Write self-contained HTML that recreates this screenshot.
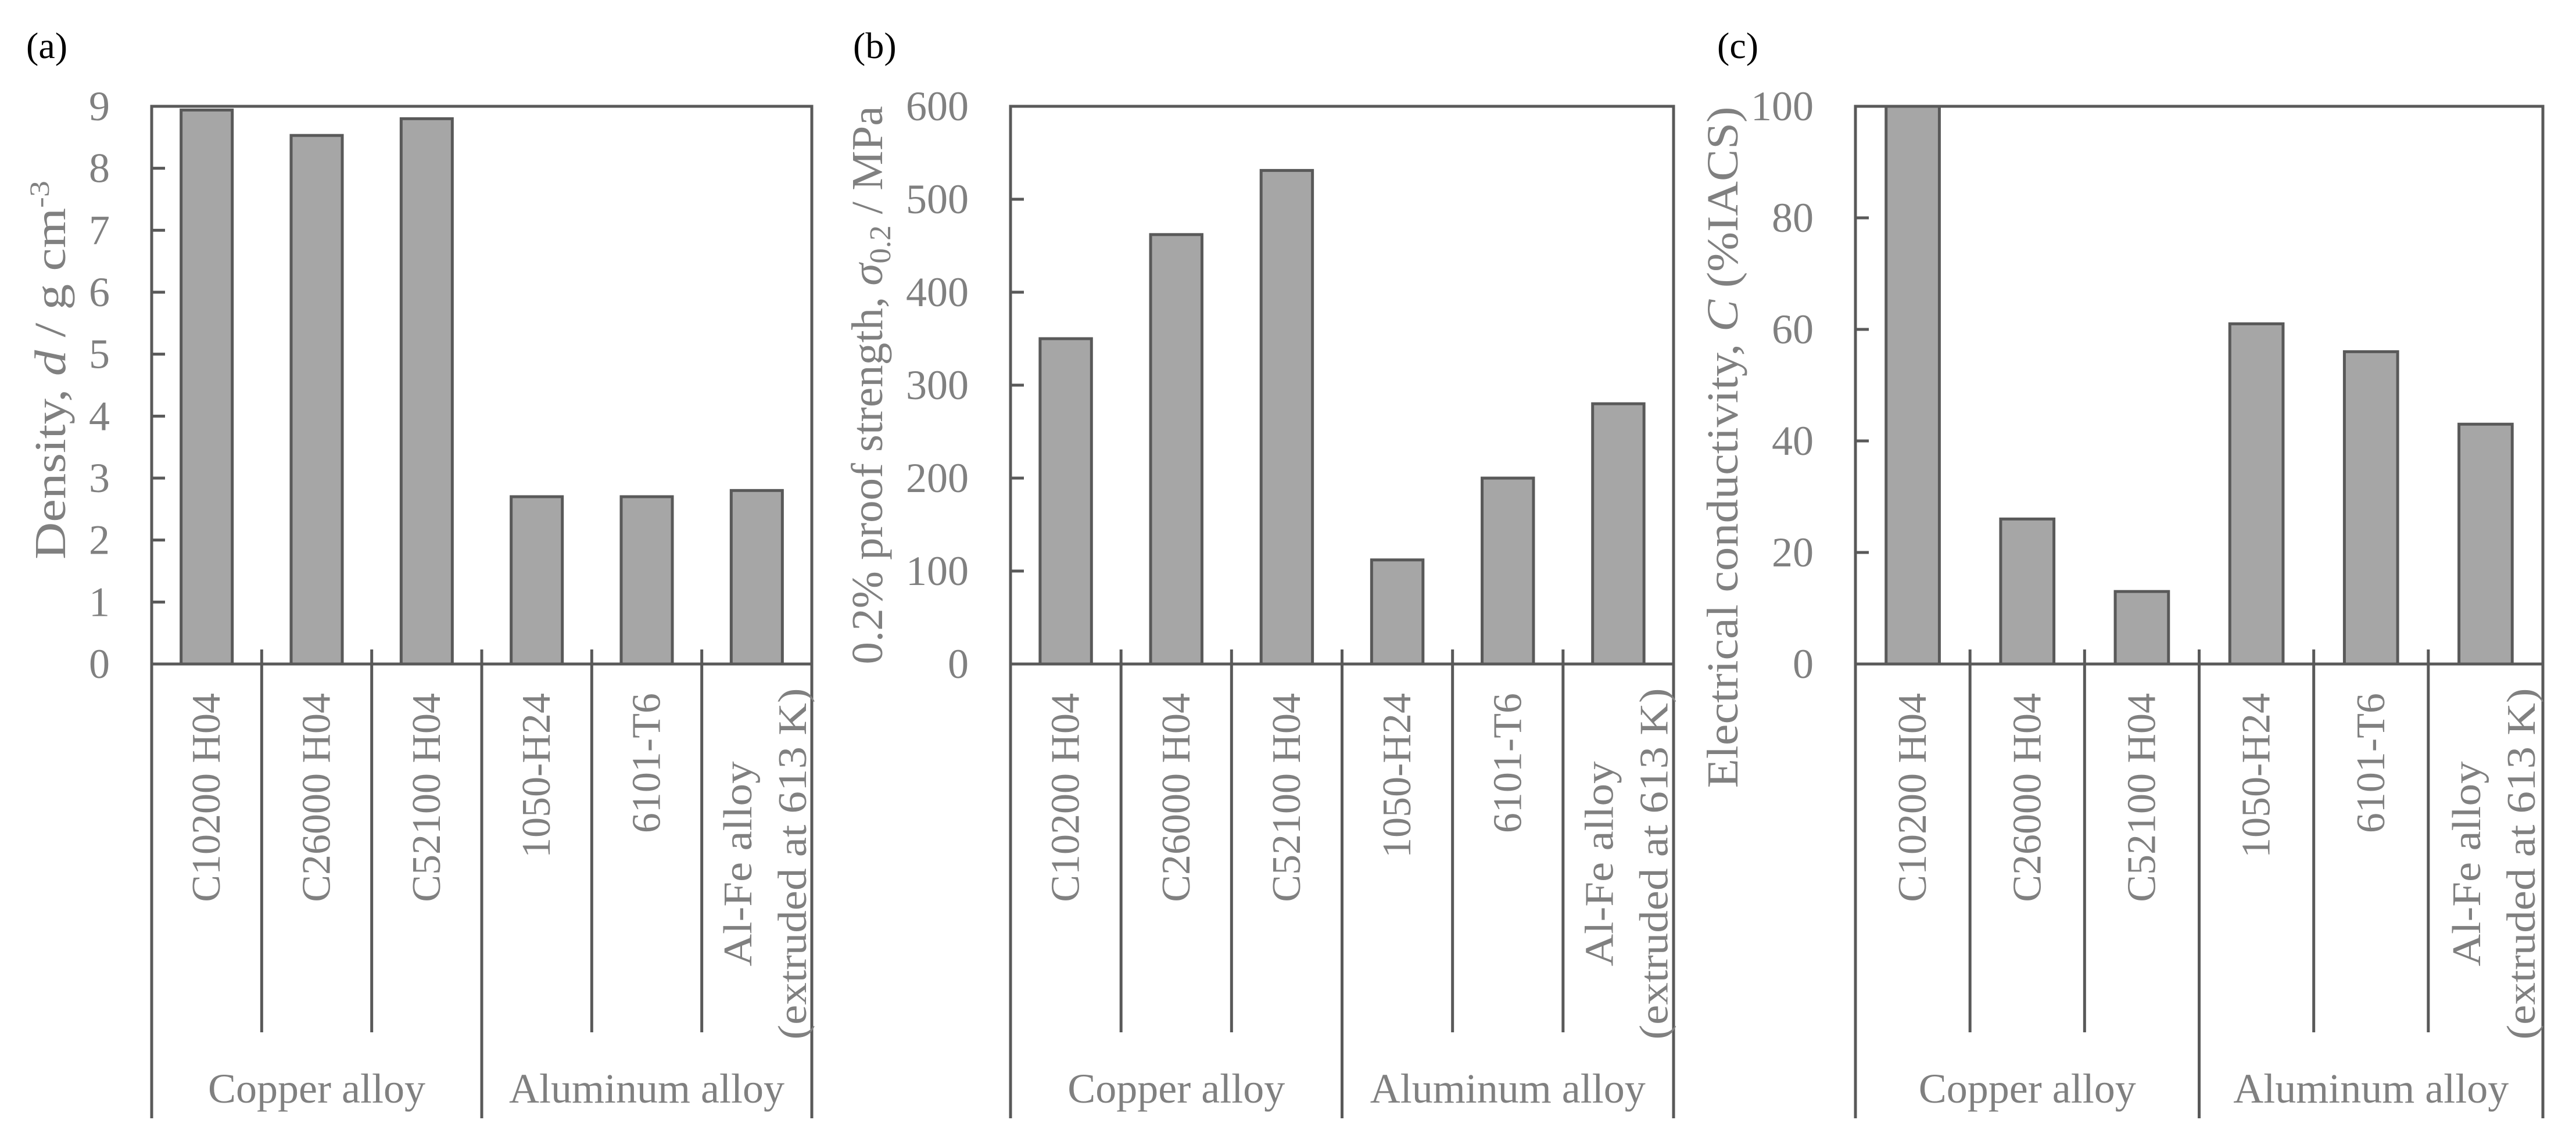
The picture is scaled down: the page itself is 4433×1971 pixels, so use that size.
<!DOCTYPE html>
<html><head><meta charset="utf-8"><style>
html,body{margin:0;padding:0;background:#fff;}
svg{display:block;}
text{font-family:"Liberation Serif",serif;fill:#808080;}
</style></head><body>
<svg id="fig" width="4433" height="1971" viewBox="0 0 4433 1971" xmlns="http://www.w3.org/2000/svg">
<g id="root"></g>
</svg>
<script>
const categories = ["C10200 H04","C26000 H04","C52100 H04","1050-H24","6101-T6","Al-Fe alloy|(extruded at 613 K)"];
const groups = ["Copper alloy","Aluminum alloy"];
const densityValues = [8.94, 8.53, 8.80, 2.70, 2.70, 2.80];
const strengthValues = [350, 462, 531, 112, 200, 280];
const conductivityValues = [100, 26, 13, 61, 56, 43];
const densityTicks = [0,1,2,3,4,5,6,7,8,9];
const strengthTicks = [0,100,200,300,400,500,600];
const conductivityTicks = [0,20,40,60,80,100];

const NS = "http://www.w3.org/2000/svg";
const root = document.getElementById('root');
function mk(tag, attrs, parent){
  const e = document.createElementNS(NS, tag);
  for (const k in attrs) e.setAttribute(k, attrs[k]);
  (parent||root).appendChild(e);
  return e;
}
function stretch(t, factor){
  const w = t.getComputedTextLength();
  t.setAttribute('textLength', (w * factor).toFixed(1));
  t.setAttribute('lengthAdjust', 'spacingAndGlyphs');
}
const LINE = "#595959";
const TOP = 183, BASE = 1143, SEP_TOP = 1118, SEP_SHORT = 1777, SEP_LONG = 1925;

function panel(opt){
  const g = mk('g', {});
  
  
  const L = opt.left, R = opt.right, n = categories.length;
  const cw = (R - L) / n;
  const yMax = opt.ticks[opt.ticks.length-1];
  const y = v => BASE - (v / yMax) * (BASE - TOP);
  const xc = i => L + cw * (i + 0.5);
  const pl = mk('text', {x: opt.labelX, y: 100, 'font-size': 64, style: 'fill:#000'}, g);
  pl.textContent = opt.label;
  
  
  const bw = cw * 0.465;
  opt.values.forEach((v, i) => {
    const top = y(Math.min(v, yMax));
    const r = mk('rect', {x: xc(i) - bw/2, y: top, width: bw, height: BASE - top, fill: '#a6a6a6', stroke: LINE, 'stroke-width': 5}, g);
    
    
  });
  const fr = mk('rect', {x: L, y: TOP, width: R - L, height: BASE - TOP, fill: 'none', stroke: LINE, 'stroke-width': 5}, g);
  
  
  opt.ticks.forEach(t => {
    const ty = y(t);
    mk('line', {x1: L, x2: L + 23, y1: ty, y2: ty, stroke: LINE, 'stroke-width': 5}, g);
    const tl = mk('text', {x: L - 72, y: ty, 'font-size': 72, 'text-anchor': 'end', 'dominant-baseline': 'central'}, g);
    tl.textContent = t;
    
    
  });
  mk('line', {x1: L, x2: L, y1: BASE, y2: SEP_LONG, stroke: LINE, 'stroke-width': 5}, g);
  mk('line', {x1: R, x2: R, y1: BASE, y2: SEP_LONG, stroke: LINE, 'stroke-width': 5}, g);
  for (let i = 1; i < n; i++) {
    const sx = L + cw * i;
    mk('line', {x1: sx, x2: sx, y1: SEP_TOP, y2: (i === 3 ? SEP_LONG : SEP_SHORT), stroke: LINE, 'stroke-width': 5}, g);
  }
  categories.forEach((c, i) => {
    const parts = c.split('|');
    if (parts.length === 1) {
      const t = mk('text', {transform: `translate(${xc(i)},1193) rotate(-90)`, 'font-size': 70, 'text-anchor': 'end', 'dominant-baseline': 'central'}, g);
      t.textContent = c;
      
      
    } else {
      const offs = [-32, 62];
      parts.forEach((p, k) => {
        const t = mk('text', {transform: `translate(${xc(i)+offs[k]},1487) rotate(-90)`, 'font-size': 70, 'text-anchor': 'middle', 'dominant-baseline': 'central'}, g);
        t.textContent = p;
        
        
        stretch(t, 1.1);
      });
    }
  });
  groups.forEach((gname, k) => {
    const t = mk('text', {x: L + cw * (3*k + 1.5), y: 1898, 'font-size': 72, 'text-anchor': 'middle'}, g);
    t.textContent = gname;
    
    
  });
  const yt = mk('text', {transform: `translate(${opt.titleX},${opt.titleY}) rotate(-90)`, 'font-size': 76, 'text-anchor': 'middle', textLength: opt.titleLen, lengthAdjust: 'spacingAndGlyphs'}, g);
  yt.innerHTML = opt.title;
  
  
}

panel({name:'density-panel', label:'(a)', labelX:45, left:261, right:1397, values:densityValues, ticks:densityTicks, titleX:112, titleY:637, titleLen:652,
  title:'Density, <tspan font-style="italic">d</tspan> / g cm<tspan dy="-28" font-size="48">-3</tspan>'});
panel({name:'strength-panel', label:'(b)', labelX:1468, left:1739, right:2880, values:strengthValues, ticks:strengthTicks, titleX:1518, titleY:663, titleLen:961,
  title:'0.2% proof strength, <tspan font-style="italic">σ</tspan><tspan dy="14" font-size="52">0.2</tspan><tspan dy="-14"> / MPa</tspan>'});
panel({name:'conductivity-panel', label:'(c)', labelX:2955, left:3193, right:4376, values:conductivityValues, ticks:conductivityTicks, titleX:2990, titleY:770, titleLen:1173,
  title:'Electrical conductivity, <tspan font-style="italic">C</tspan> (%IACS)'});
</script>
</body></html>
